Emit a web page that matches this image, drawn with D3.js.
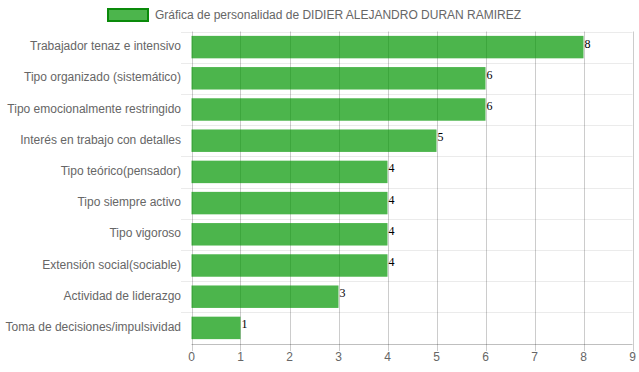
<!DOCTYPE html>
<html><head><meta charset="utf-8">
<script src="https://cdn.jsdelivr.net/npm/d3@7"></script>
<style>body{margin:0;background:#fff}svg{display:block}</style>
</head><body>
<script>
const categories = ["Trabajador tenaz e intensivo","Tipo organizado (sistemático)","Tipo emocionalmente restringido","Interés en trabajo con detalles","Tipo teórico(pensador)","Tipo siempre activo","Tipo vigoroso","Extensión social(sociable)","Actividad de liderazgo","Toma de decisiones/impulsividad"];
const values = [8,6,6,5,4,4,4,4,3,1];
const xTicks = [0,1,2,3,4,5,6,7,8,9];
const legendLabel = "Gráfica de personalidad de DIDIER ALEJANDRO DURAN RAMIREZ";

const W = 639, H = 372;
const svg = d3.select("body").append("svg").attr("width", W).attr("height", H);
const font = "'Liberation Sans', Arial, sans-serif";

const x = d3.scaleLinear().domain([0, 9]).range([191.5, 632.5]);
const y = d3.scaleBand().domain(categories).range([31.5, 343.5]).paddingInner(0.28).paddingOuter(0.14);
const band = d3.scaleBand().domain(categories).range([31.5, 343.5]);

// horizontal gridlines
const hLines = d3.range(categories.length + 1).map(i => 31.5 + i * band.step());
svg.append("g").selectAll("line").data(hLines.slice(0, -1)).join("line")
  .attr("x1", 181).attr("x2", 632.5).attr("y1", d => Math.round(d) + 0.5).attr("y2", d => Math.round(d) + 0.5)
  .attr("stroke", "rgba(0,0,0,0.08)");

// vertical gridlines
svg.append("g").selectAll("line").data(xTicks).join("line")
  .attr("x1", d => Math.round(x(d)) + 0.5).attr("x2", d => Math.round(x(d)) + 0.5)
  .attr("y1", 31.5).attr("y2", 351)
  .attr("stroke", "rgba(0,0,0,0.2)");

// bottom axis line
svg.append("line").attr("x1", 191.5).attr("x2", 632.5).attr("y1", 344.5).attr("y2", 344.5).attr("stroke", "rgba(0,0,0,0.25)");

// bars
svg.append("g").selectAll("rect").data(values).join("rect")
  .attr("x", x(0)).attr("y", (d, i) => y(categories[i]))
  .attr("width", d => x(d) - x(0)).attr("height", y.bandwidth())
  .attr("fill", "rgba(0,150,0,0.7)");

// value labels
svg.append("g").selectAll("text").data(values).join("text")
  .attr("x", d => x(d) + 1).attr("y", (d, i) => y(categories[i]) + 9)
  .attr("dominant-baseline", "middle")
  .attr("font-family", "'Liberation Serif', 'Times New Roman', serif").attr("font-size", 12).attr("fill", "#000")
  .text(d => d);

// category labels
svg.append("g").selectAll("text").data(categories).join("text")
  .attr("x", 181).attr("y", d => band(d) + band.step() / 2)
  .attr("text-anchor", "end").attr("dominant-baseline", "middle")
  .attr("font-family", font).attr("font-size", 12).attr("fill", "#666")
  .text(d => d);

// x tick labels
svg.append("g").selectAll("text").data(xTicks).join("text")
  .attr("x", d => x(d)).attr("y", 358)
  .attr("text-anchor", "middle").attr("dominant-baseline", "middle")
  .attr("font-family", font).attr("font-size", 12).attr("fill", "#666")
  .text(d => d);

// legend
svg.append("rect").attr("x", 108).attr("y", 9).attr("width", 40).attr("height", 12)
  .attr("fill", "rgba(0,150,0,0.7)").attr("stroke", "#0a8a0a").attr("stroke-width", 2);
svg.append("text").attr("x", 155).attr("y", 15.5).attr("dominant-baseline", "middle")
  .attr("font-family", font).attr("font-size", 12).attr("fill", "#666").text(legendLabel);
</script>
</body></html>
